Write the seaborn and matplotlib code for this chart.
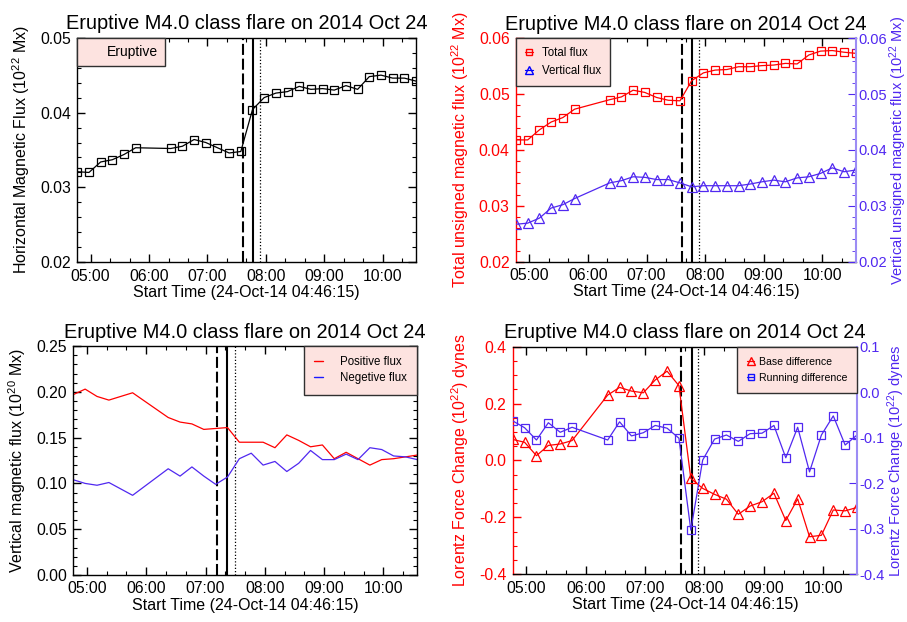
import numpy as np
import pandas as pd
import matplotlib
matplotlib.use("Agg")
import matplotlib.pyplot as plt
import matplotlib.dates as mdates
from matplotlib.ticker import MultipleLocator, FormatStrFormatter
from matplotlib.lines import Line2D
import seaborn as sns

sns.set_style("ticks")
plt.rcParams['font.family'] = ['Liberation Sans', 'DejaVu Sans']
plt.rcParams['mathtext.fontset'] = 'custom'
plt.rcParams['mathtext.rm'] = 'Liberation Sans'
plt.rcParams['mathtext.it'] = 'Liberation Sans:italic'
plt.rcParams['mathtext.bf'] = 'Liberation Sans:bold'
for k in ['axes.edgecolor', 'text.color', 'axes.labelcolor', 'xtick.color', 'ytick.color']:
    plt.rcParams[k] = 'black'
plt.rcParams['axes.linewidth'] = 1.0

RED = '#ff0000'
BLUE = '#5028f0'
BLUE_SPINE = '#9c8cf4'
PINK = '#fde3e0'

# --- data: SHARP 12-min cadence, two frames missing near 06:00 ---
obs_times = ['04:46:15', '04:58:15', '05:10:15', '05:22:15', '05:34:15', '05:46:15',
             '06:22:15', '06:34:15', '06:46:15', '06:58:15', '07:10:15', '07:22:15', '07:34:15',
             '07:46:15', '07:58:15', '08:10:15', '08:22:15', '08:34:15', '08:46:15', '08:58:15',
             '09:10:15', '09:22:15', '09:34:15', '09:46:15', '09:58:15', '10:10:15', '10:22:15',
             '10:34:15']

horiz_flux = [0.0321, 0.0320, 0.0334, 0.0337, 0.0344, 0.0353,
              0.0352, 0.0355, 0.0364, 0.0360, 0.0353, 0.0346, 0.0348,
              0.0404, 0.0420, 0.0426, 0.0428, 0.0435, 0.0431, 0.0432, 0.0430,
              0.0436, 0.0431, 0.0448, 0.0450, 0.0446, 0.0446, 0.0442]

total_flux = [0.0418, 0.0418, 0.0436, 0.0450, 0.0458, 0.0473,
              0.0490, 0.0495, 0.0507, 0.0503, 0.0494, 0.0489, 0.0488,
              0.0524, 0.0538, 0.0543, 0.0544, 0.0549, 0.0549, 0.0551, 0.0552,
              0.0555, 0.0554, 0.0570, 0.0577, 0.0578, 0.0575, 0.0573]

vert_flux = [0.0267, 0.0269, 0.0278, 0.0296, 0.0302, 0.0313,
             0.0341, 0.0345, 0.0352, 0.0351, 0.0347, 0.0347, 0.0341,
             0.0334, 0.0336, 0.0336, 0.0336, 0.0336, 0.0339, 0.0343, 0.0346,
             0.0343, 0.0350, 0.0352, 0.0358, 0.0368, 0.0361, 0.0364]

pos_flux = [0.197, 0.203, 0.195, 0.191, 0.195, 0.199,
            0.172, 0.167, 0.165, 0.159, 0.160, 0.161, 0.145,
            0.145, 0.145, 0.139, 0.153, 0.147, 0.140, 0.142, 0.127,
            0.134, 0.127, 0.120, 0.126, 0.127, 0.129, 0.131]

neg_flux = [0.104, 0.100, 0.098, 0.101, 0.094, 0.087,
            0.116, 0.108, 0.118, 0.108, 0.099, 0.107, 0.127,
            0.133, 0.120, 0.124, 0.113, 0.122, 0.136, 0.126, 0.126,
            0.132, 0.126, 0.139, 0.137, 0.130, 0.129, 0.126]

base_diff = [0.074, 0.064, 0.017, 0.053, 0.058, 0.070,
             0.230, 0.257, 0.244, 0.238, 0.283, 0.314, 0.263,
             -0.063, -0.098, -0.119, -0.136, -0.189, -0.160, -0.145, -0.115,
             -0.211, -0.135, -0.268, -0.263, -0.174, -0.177, -0.165]

run_diff = [-0.063, -0.078, -0.105, -0.067, -0.088, -0.077,
            -0.105, -0.065, -0.096, -0.089, -0.073, -0.079, -0.101,
            -0.303, -0.149, -0.103, -0.094, -0.108, -0.091, -0.090, -0.073,
            -0.144, -0.077, -0.175, -0.094, -0.052, -0.116, -0.094]

flare_marks = ['07:36:30', '07:47:00', '07:53:30']      # start, peak, end
flare_marks_vz = ['07:11:40', '07:22:00', '07:29:30']   # as drawn on the Bz panel

DAY = '2014-10-24 '
t = pd.to_datetime([DAY + s for s in obs_times])
t0 = pd.Timestamp(DAY + '04:46:15')
t1 = pd.Timestamp(DAY + '10:34:15')

TITLE = 'Eruptive M4.0 class flare on 2014 Oct 24'
XLAB = 'Start Time (24-Oct-14 04:46:15)'
FS_TICK = 11.3
FS_LAB = 11.5
FS_RIGHT = 10.5


def style_time_axis(ax):
    ax.set_xlim(t0, t1)
    ax.xaxis.set_major_locator(mdates.HourLocator())
    ax.xaxis.set_minor_locator(mdates.MinuteLocator(byminute=[20, 40]))
    ax.xaxis.set_major_formatter(mdates.DateFormatter('%H:%M'))
    ax.set_xlabel(XLAB, fontsize=FS_LAB, labelpad=1)
    ax.tick_params(which='both', direction='in', top=True, right=True,
                   labelsize=FS_TICK, pad=4.5)
    ax.tick_params(which='major', length=6, width=1)
    ax.tick_params(which='minor', length=3, width=0.8)
    ax.set_title(TITLE, fontsize=14.4, pad=6)


def flare_lines(ax, marks):
    styles = [dict(ls=(0, (5.3, 1.8)), lw=1.5), dict(ls='-', lw=1.5), dict(ls=(0, (1, 1.6)), lw=0.9)]
    for m, st in zip(marks, styles):
        ax.axvline(pd.Timestamp(DAY + m), color='k', **st)


def pink_legend(ax, handles, labels, loc, fs, bp, hl, htp, ls):
    leg = ax.legend(handles, labels, loc=loc, fontsize=fs, borderaxespad=0,
                    borderpad=bp, handlelength=hl, handletextpad=htp, labelspacing=ls,
                    fancybox=False, framealpha=1, facecolor=PINK, edgecolor='#303030',
                    numpoints=1)
    leg.get_frame().set_linewidth(1.0)
    return leg


def right_axis(ax, label):
    for s in ['left', 'top', 'bottom']:
        ax.spines[s].set_visible(False)
    ax.spines['right'].set_color(BLUE_SPINE)
    ax.spines['right'].set_linewidth(1.5)
    ax.tick_params(axis='y', which='both', direction='in', colors=BLUE,
                   labelsize=FS_RIGHT, pad=2)
    ax.tick_params(axis='y', which='major', length=6)
    ax.tick_params(axis='y', which='minor', length=3)
    ax.set_ylabel(label, fontsize=FS_RIGHT, color=BLUE, labelpad=0)


line_kw = dict(markerfacecolor='none', markeredgewidth=0.9, linewidth=0.9)

fig = plt.figure(figsize=(9.07, 6.22), dpi=100)

# ---- top left: horizontal flux ----
ax1 = fig.add_axes([0.0852, 0.5783, 0.3735, 0.3611])
flare_lines(ax1, flare_marks)
sns.lineplot(x=t, y=horiz_flux, ax=ax1, color='k', marker='s', markersize=6,
             markeredgecolor='k', **line_kw)
ax1.set_ylim(0.02, 0.05)
ax1.yaxis.set_major_locator(MultipleLocator(0.01))
ax1.yaxis.set_minor_locator(MultipleLocator(0.002))
ax1.yaxis.set_major_formatter(FormatStrFormatter('%.2f'))
style_time_axis(ax1)
ax1.set_ylabel(r'Horizontal Magnetic Flux (10$^{22}$ Mx)', fontsize=FS_LAB, labelpad=6)
pink_legend(ax1, [Line2D([], [], ls='none')], ['Eruptive'], 'upper left', 10,
            0.5, 1.0, 0.6, 0.5)

# ---- top right: total and vertical unsigned flux ----
ax2 = fig.add_axes([0.5689, 0.5793, 0.3745, 0.3592])
flare_lines(ax2, flare_marks)
sns.lineplot(x=t, y=total_flux, ax=ax2, color=RED, marker='s', markersize=6,
             markeredgecolor=RED, **line_kw)
ax2.set_ylim(0.02, 0.06)
ax2.yaxis.set_major_locator(MultipleLocator(0.01))
ax2.yaxis.set_minor_locator(MultipleLocator(0.002))
ax2.yaxis.set_major_formatter(FormatStrFormatter('%.2f'))
style_time_axis(ax2)
ax2.tick_params(axis='y', which='both', right=False, colors=RED)
ax2.spines['left'].set_color(RED)
ax2.spines['right'].set_visible(False)
ax2.set_ylabel(r'Total unsigned magnetic flux (10$^{22}$ Mx)', fontsize=FS_LAB,
               color=RED, labelpad=6)
ax2r = ax2.twinx()
sns.lineplot(x=t, y=vert_flux, ax=ax2r, color=BLUE, marker='^', markersize=6.5,
             markeredgecolor=BLUE, **line_kw)
ax2r.set_ylim(0.02, 0.06)
ax2r.yaxis.set_major_locator(MultipleLocator(0.01))
ax2r.yaxis.set_minor_locator(MultipleLocator(0.002))
ax2r.yaxis.set_major_formatter(FormatStrFormatter('%.2f'))
right_axis(ax2r, r'Vertical unsigned magnetic flux (10$^{22}$ Mx)')
h2 = [Line2D([], [], color=RED, marker='s', ms=5, mfc='none', mew=1.0, lw=0.9),
      Line2D([], [], color='#0000ff', marker='^', ms=5.5, mfc='none', mew=1.0, lw=0.9)]
pink_legend(ax2r, h2, ['Total flux', 'Vertical flux'], 'upper left', 8.3,
            0.8, 0.66, 0.77, 0.45)

# ---- bottom left: positive / negative vertical flux ----
ax3 = fig.add_axes([0.0808, 0.0756, 0.3793, 0.368])
flare_lines(ax3, flare_marks_vz)
sns.lineplot(x=t, y=pos_flux, ax=ax3, color=RED, linewidth=0.9)
sns.lineplot(x=t, y=neg_flux, ax=ax3, color=BLUE, linewidth=0.9)
ax3.set_ylim(0.0, 0.25)
ax3.yaxis.set_major_locator(MultipleLocator(0.05))
ax3.yaxis.set_minor_locator(MultipleLocator(0.01))
ax3.yaxis.set_major_formatter(FormatStrFormatter('%.2f'))
style_time_axis(ax3)
ax3.set_ylabel(r'Vertical magnetic flux (10$^{20}$ Mx)', fontsize=FS_LAB, labelpad=6)
h3 = [Line2D([], [], color=RED, lw=1.0), Line2D([], [], color='#1a1aff', lw=1.0)]
pink_legend(ax3, h3, ['Positive flux', 'Negetive flux'], 'upper right', 8.3,
            0.9, 0.72, 1.5, 0.33)

# ---- bottom right: Lorentz force change ----
ax4 = fig.add_axes([0.5653, 0.0767, 0.3796, 0.3659])
flare_lines(ax4, flare_marks)
sns.lineplot(x=t, y=base_diff, ax=ax4, color=RED, marker='^', markersize=6.5,
             markeredgecolor=RED, **line_kw)
ax4.set_ylim(-0.4, 0.4)
ax4.yaxis.set_major_locator(MultipleLocator(0.2))
ax4.yaxis.set_minor_locator(MultipleLocator(0.05))
ax4.yaxis.set_major_formatter(FormatStrFormatter('%.1f'))
style_time_axis(ax4)
ax4.tick_params(axis='y', which='both', right=False, colors=RED)
ax4.spines['left'].set_color(RED)
ax4.spines['right'].set_visible(False)
ax4.set_ylabel(r'Lorentz Force Change (10$^{22}$) dynes', fontsize=FS_LAB,
               color=RED, labelpad=6)
ax4r = ax4.twinx()
sns.lineplot(x=t, y=run_diff, ax=ax4r, color=BLUE, marker='s', markersize=6,
             markeredgecolor=BLUE, **line_kw)
ax4r.set_ylim(-0.4, 0.1)
ax4r.yaxis.set_major_locator(MultipleLocator(0.1))
ax4r.yaxis.set_minor_locator(MultipleLocator(0.1))
ax4r.yaxis.set_major_formatter(FormatStrFormatter('%.1f'))
right_axis(ax4r, r'Lorentz Force Change (10$^{22}$) dynes')
h4 = [Line2D([], [], color=RED, marker='^', ms=5.5, mfc='none', mew=1.0, lw=0.9),
      Line2D([], [], color='#1010ff', marker='s', ms=5, mfc='none', mew=1.0, lw=0.9)]
pink_legend(ax4r, h4, ['Base difference', 'Running difference'], 'upper right', 7.6,
            0.95, 0.7, 0.4, 0.6)

fig.savefig('out.png', dpi=100)
